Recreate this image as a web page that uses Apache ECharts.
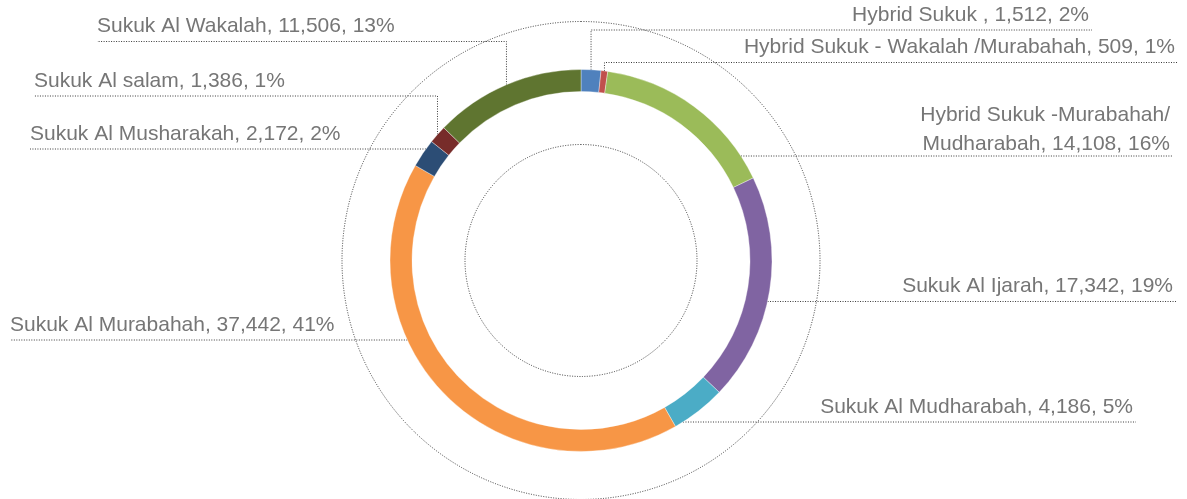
<!DOCTYPE html>
<html>
<head>
<meta charset="utf-8">
<script src="https://cdn.jsdelivr.net/npm/echarts@6/dist/echarts.min.js"></script>
<style>
  html, body { margin: 0; padding: 0; background: #ffffff; }
  #chart { width: 1187px; height: 499px; }
</style>
</head>
<body>
<div id="chart"></div>
<script>
// ---- data ----
const categories = [
  'Hybrid Sukuk ',
  'Hybrid Sukuk - Wakalah /Murabahah',
  'Hybrid Sukuk -Murabahah/\nMudharabah',
  'Sukuk Al Ijarah',
  'Sukuk Al Mudharabah',
  'Sukuk Al Murabahah',
  'Sukuk Al Musharakah',
  'Sukuk Al salam',
  'Sukuk Al Wakalah'
];
const values = [1512, 509, 14108, 17342, 4186, 37442, 2172, 1386, 11506];
const percentLabels = ['2%', '1%', '16%', '19%', '5%', '41%', '2%', '1%', '13%'];
const colors = ['#4F81BD', '#C0504D', '#9BBB59', '#8064A2', '#4BACC6', '#F79646', '#2C4D75', '#772C2A', '#5F7530'];

// ---- layout (pixels) ----
const CX = 581, CY = 260.5, R_OUT = 191, R_IN = 169;
const labelLineY = [30, 62.5, 156, 301.5, 422, 340, 149, 96, 41.5];   // y of each underline
const labelEdgeX = [1089, 1175, 1170, 1173, 1133, 10, 30, 34, 97];    // outer text edge

const total = values.reduce((a, b) => a + b, 0);
let cum = 0;
const ranges = values.map(v => { const a0 = cum / total * 360; cum += v; return [a0, cum / total * 360]; });

function fmt(n) { return n.toLocaleString('en-US'); }

const chart = echarts.init(document.getElementById('chart'), null, { renderer: 'canvas' });

function labelLayout(params) {
  const i = params.dataIndex;
  const ly = labelLineY[i], ex = labelEdgeX[i];
  const right = ex > CX;
  const a0 = ranges[i][0], a1 = ranges[i][1];
  const dy = ly - CY;
  let hit = null;
  if (Math.abs(dy) < R_OUT) {
    const dx = Math.sqrt(R_OUT * R_OUT - dy * dy) * (right ? 1 : -1);
    let ang = Math.atan2(dx, -dy) * 180 / Math.PI;
    if (ang < 0) ang += 360;
    if (ang >= a0 && ang <= a1) hit = [CX + dx, ly];
  }
  const farX = right ? ex + 3 : ex;
  let pts;
  if (hit) {
    pts = [hit, hit, [farX, ly]];
  } else {
    const m = (a0 + a1) / 2 * Math.PI / 180;
    const ax = CX + R_OUT * Math.sin(m), ay = CY - R_OUT * Math.cos(m);
    pts = [[ax, ay], [ax, ly], [farX, ly]];
  }
  const nLines = categories[i].split('\n').length;
  const lastCenter = ly - (nLines > 1 ? 11.5 : 15);
  const centerY = lastCenter - (nLines - 1) * 29 / 2;
  return {
    x: ex,
    y: centerY,
    align: right ? 'right' : 'left',
    verticalAlign: 'middle',
    labelLinePoints: pts
  };
}

const option = {
  animation: false,
  backgroundColor: '#ffffff',
  series: [
    {
      // decorative dotted guide circles
      type: 'pie',
      center: [CX, CY],
      radius: [116, 239],
      silent: true,
      z: 1,
      label: { show: false },
      labelLine: { show: false },
      emphasis: { disabled: true },
      itemStyle: { color: 'rgba(0,0,0,0)', borderColor: '#3a3a3a', borderWidth: 1, borderType: [1, 1.5] },
      data: [{ value: 1, name: '' }]
    },
    {
      type: 'pie',
      center: [CX, CY],
      radius: [R_IN, R_OUT],
      startAngle: 90,
      clockwise: true,
      z: 2,
      avoidLabelOverlap: false,
      emphasis: { disabled: true },
      itemStyle: { borderColor: 'rgba(255,255,255,0.6)', borderWidth: 0.6 },
      label: {
        show: true,
        position: 'outside',
        color: '#767676',
        fontFamily: 'Liberation Sans, Arial, sans-serif',
        fontSize: 21,
        lineHeight: 29,
        overflow: 'none',
        formatter: p => categories[p.dataIndex] + ', ' + fmt(values[p.dataIndex]) + ', ' + percentLabels[p.dataIndex]
      },
      labelLine: {
        show: true,
        length: 10,
        length2: 10,
        smooth: false,
        lineStyle: { color: '#3a3a3a', width: 1, type: [1, 1.5] }
      },
      labelLayout: labelLayout,
      data: categories.map((c, i) => ({ name: c, value: values[i], itemStyle: { color: colors[i] } }))
    }
  ]
};
chart.setOption(option);
</script>
</body>
</html>
